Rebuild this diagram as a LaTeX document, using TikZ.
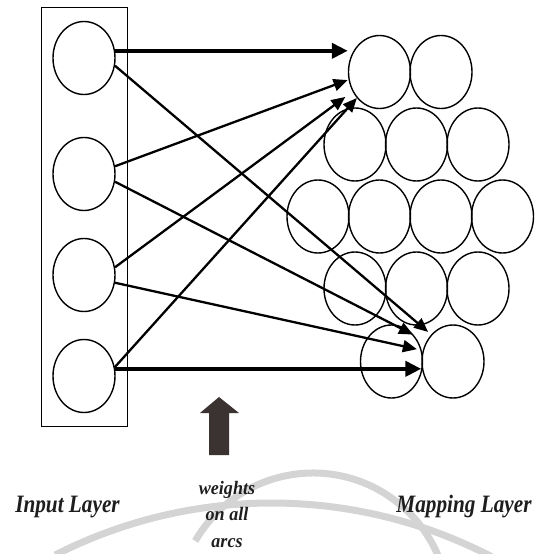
\documentclass[tikz,border=0pt]{standalone}
\usepackage{fontspec}
\setmainfont{Liberation Serif}
\usetikzlibrary{shapes.geometric,arrows.meta}

\definecolor{inkgray}{HTML}{1E1E1E}
\definecolor{pointer}{HTML}{3B3331}

\begin{document}
\begin{tikzpicture}[x=1pt,y=-1pt,
  unit/.style={ellipse,draw,line width=1.4pt,minimum width=62pt,minimum height=73pt,inner sep=0pt},
  link/.style={line width=2.3pt,-{Triangle[length=14pt,width=12pt]}},
  mainlink/.style={line width=4pt,-{Triangle[length=16pt,width=15pt]}},
  layerlabel/.style={font=\fontsize{25}{29}\selectfont\bfseries\itshape,text=inkgray,xscale=0.85},
  watermark/.style={draw=black!17,line width=7pt}
]
\useasboundingbox (0,0) rectangle (535,554);

% faint rings along the bottom
\draw[watermark] (313,609) ++(-150:136) arc[start angle=-150,end angle=-20,radius=136];
\draw[watermark] (271.7,980) ++(-117:477) arc[start angle=-117,end angle=-62,radius=477];

% input layer
\node[draw,line width=1pt,minimum width=86pt,minimum height=419pt,inner sep=0pt] (inputframe) at (84,216.5) {};
\node[unit] (in1) at (84,58) {};
\node[unit] (in2) at (84,174) {};
\node[unit] (in3) at (84,275) {};
\node[unit] (in4) at (84,376) {};

% mapping layer
\node[unit] (m11) at (379.5,72) {};
\node[unit] (m12) at (441,72) {};
\node[unit] (m21) at (355,144.5) {};
\node[unit] (m22) at (416.5,144.5) {};
\node[unit] (m23) at (478,144.5) {};
\node[unit] (m31) at (318,216.5) {};
\node[unit] (m32) at (379.5,216.5) {};
\node[unit] (m33) at (441,216.5) {};
\node[unit] (m34) at (502.5,216.5) {};
\node[unit] (m41) at (355,288.5) {};
\node[unit] (m42) at (416.5,288.5) {};
\node[unit] (m43) at (478,288.5) {};
\node[unit] (m51) at (391.5,361.5) {};
\node[unit] (m52) at (453,361.5) {};

% weighted connections
\draw[mainlink] (in1.13) -- (in1.13 -| m11.west);
\draw[link,shorten >=4pt] (in1.-14) -- (m52.129);
\draw[link,shorten >=1pt] (in2.14) -- (m11.194);
\draw[link,shorten >=15pt] (in2.-14) -- (m52.143);
\draw[link,shorten >=9pt] (in3.14) -- (m11.216);
\draw[link,shorten >=6pt] (in3.-14) -- (m52.160);
\draw[link] (in4.16) -- (m11.229);
\draw[mainlink] (in4.13) -- (in4.13 -| m52.west);

% pointer to the arcs
\fill[pointer] (219,397) -- (239,413) -- (229,413) -- (229,455) -- (209,455) -- (209,413) -- (200,413) -- cycle;

% labels
\node[layerlabel] (inlabel) at (67.5,507) {Input Layer};
\node[layerlabel] (maplabel) at (464,507) {Mapping Layer};
\node[font=\fontsize{19}{26.5}\selectfont\bfseries\itshape,text=inkgray,align=center,xscale=0.95] (weightlabel) at (227,514) {weights\\on all\\arcs};
\end{tikzpicture}
\end{document}
